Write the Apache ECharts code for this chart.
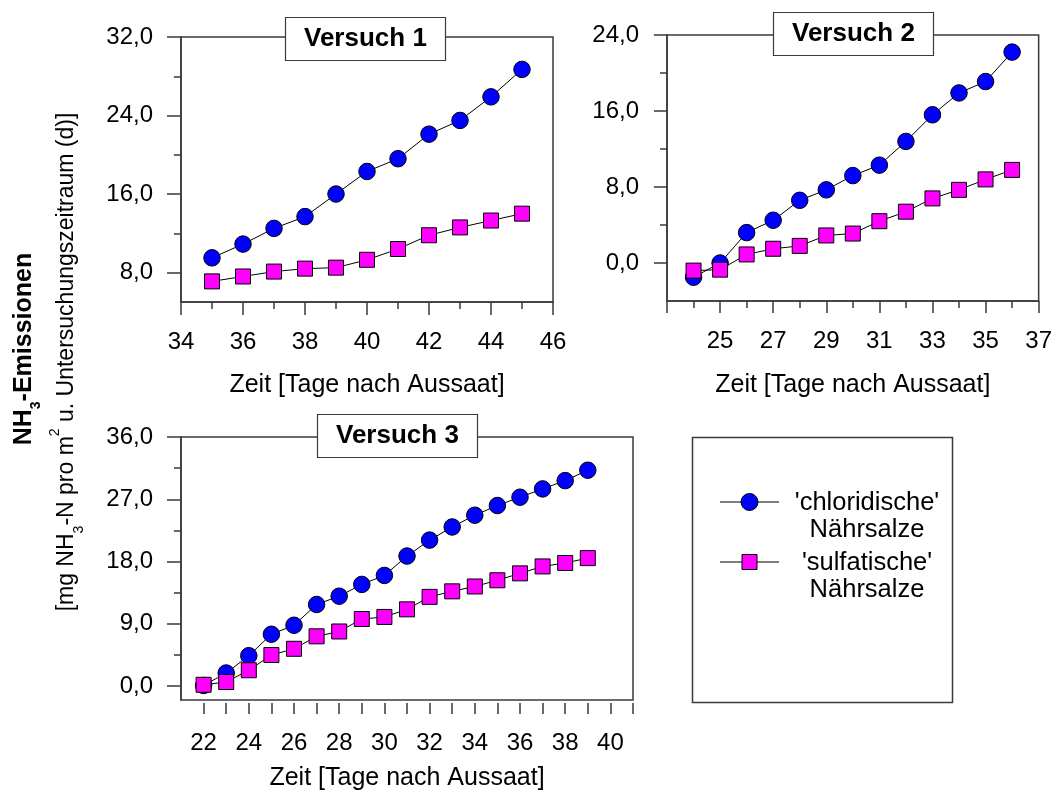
<!DOCTYPE html>
<html>
<head>
<meta charset="utf-8">
<script src="https://cdn.jsdelivr.net/npm/echarts@6/dist/echarts.min.js"></script>
<style>
  html, body { margin: 0; padding: 0; background: #fff; }
  #chart { width: 1055px; height: 792px; }
</style>
</head>
<body>
<div id="chart"></div>
<script>
// ---- Versuch 1 ----
const days1 = [35, 36, 37, 38, 39, 40, 41, 42, 43, 44, 45];
const chlorid1 = [9.5, 10.9, 12.5, 13.7, 16.0, 18.3, 19.6, 22.1, 23.5, 25.9, 28.7];
const sulfat1 = [7.1, 7.6, 8.1, 8.4, 8.5, 9.3, 10.4, 11.8, 12.6, 13.3, 14.0];

// ---- Versuch 2 ----
const days2 = [24, 25, 26, 27, 28, 29, 30, 31, 32, 33, 34, 35, 36];
const chlorid2 = [-1.5, 0.0, 3.2, 4.5, 6.6, 7.7, 9.2, 10.3, 12.8, 15.6, 17.9, 19.1, 22.2];
const sulfat2 = [-0.8, -0.7, 0.9, 1.5, 1.8, 2.9, 3.1, 4.4, 5.4, 6.8, 7.7, 8.8, 9.8];

// ---- Versuch 3 ----
const days3 = [22, 23, 24, 25, 26, 27, 28, 29, 30, 31, 32, 33, 34, 35, 36, 37, 38, 39];
const chlorid3 = [0.1, 1.9, 4.4, 7.5, 8.8, 11.8, 13.0, 14.7, 16.0, 18.8, 21.1, 23.0, 24.7, 26.1, 27.3, 28.5, 29.7, 31.2];
const sulfat3 = [0.2, 0.6, 2.3, 4.5, 5.4, 7.2, 7.9, 9.7, 10.0, 11.1, 12.9, 13.7, 14.4, 15.3, 16.3, 17.3, 17.8, 18.5];

// ---- tick labels and tick positions ----
const xLabels1 = [34, 36, 38, 40, 42, 44, 46];
const xMinor1 = [35, 37, 39, 41, 43, 45];
const yLabels1 = [8, 16, 24, 32];
const yMinor1 = [12, 20, 28];

const xMajor2 = [23, 25, 27, 29, 31, 33, 35, 37];
const xLabels2 = [25, 27, 29, 31, 33, 35, 37];
const xMinor2 = [24, 26, 28, 30, 32, 34, 36];
const yLabels2 = [0, 8, 16, 24];
const yMinor2 = [4, 12, 20];

const xLabels3 = [22, 24, 26, 28, 30, 32, 34, 36, 38, 40];
const xTicks3 = [22, 23, 24, 25, 26, 27, 28, 29, 30, 31, 32, 33, 34, 35, 36, 37, 38, 39, 40, 41];
const yLabels3 = [0, 9, 18, 27, 36];
const yMinor3 = [4.5, 13.5, 22.5, 31.5];

const seriesNames = ["'chloridische' Nährsalze", "'sulfatische' Nährsalze"];
const panelTitles = ['Versuch 1', 'Versuch 2', 'Versuch 3'];
const xTitle = 'Zeit [Tage nach Aussaat]';

const FONT = "'Liberation Sans', Arial, Helvetica, sans-serif";
const FRAME = '#3a3a3a';
const BLUE = '#0000ff';
const MAGENTA = '#ff00ff';

const comma = v => v.toFixed(1).replace('.', ',');
const pairs = (xs, ys) => xs.map((x, i) => [x, ys[i]]);

const tickLine = { color: FRAME, width: 1.5 };
const labelStyle = { color: '#000', fontSize: 24, fontFamily: FONT };

function xMain(grid, min, max, labels, ticks, tickLen, nameGap, showLine, offset) {
  return {
    type: 'value', gridIndex: grid, position: 'bottom', min: min, max: max, offset: offset || 0,
    axisLine: { show: showLine, onZero: false, lineStyle: tickLine },
    axisTick: { show: true, customValues: ticks, length: tickLen, lineStyle: tickLine },
    axisLabel: Object.assign({ customValues: labels, margin: 28 }, labelStyle),
    splitLine: { show: false },
    name: xTitle, nameLocation: 'middle', nameGap: nameGap,
    nameTextStyle: { color: '#000', fontSize: 25, fontFamily: FONT }
  };
}
function xHelper(grid, min, max, ticks, tickLen) {
  return {
    type: 'value', gridIndex: grid, position: 'bottom', min: min, max: max,
    axisLine: { show: false, onZero: false },
    axisTick: { show: true, customValues: ticks, length: tickLen, lineStyle: tickLine },
    axisLabel: { show: false }, splitLine: { show: false }
  };
}
function yMain(grid, min, max, labels, tickLen) {
  return {
    type: 'value', gridIndex: grid, position: 'left', min: min, max: max,
    axisLine: { show: true, onZero: false, lineStyle: tickLine },
    axisTick: { show: true, customValues: labels, length: tickLen, lineStyle: tickLine },
    axisLabel: Object.assign({ customValues: labels, margin: 28, formatter: comma }, labelStyle),
    splitLine: { show: false }
  };
}
function yHelper(grid, min, max, ticks, tickLen) {
  return {
    type: 'value', gridIndex: grid, position: 'left', min: min, max: max,
    axisLine: { show: false, onZero: false },
    axisTick: { show: true, customValues: ticks, length: tickLen, lineStyle: tickLine },
    axisLabel: { show: false }, splitLine: { show: false }
  };
}
function seriesOf(name, kind, xi, yi, xs, ys) {
  const circle = kind === 'circle';
  return {
    name: name, type: 'line', xAxisIndex: xi, yAxisIndex: yi,
    data: pairs(xs, ys),
    symbol: circle ? 'circle' : 'rect',
    symbolSize: circle ? 16.5 : 15,
    itemStyle: { color: circle ? BLUE : MAGENTA, borderColor: '#000', borderWidth: 1 },
    lineStyle: { color: '#000', width: 1 },
    emphasis: { disabled: true },
    animation: false
  };
}
function titleBox(text, left, top) {
  return {
    text: text, left: left, top: top,
    padding: [8, 19], borderColor: FRAME, borderWidth: 1.2, backgroundColor: '#fff',
    textStyle: { fontSize: 26, fontWeight: 'bold', fontFamily: FONT, color: '#000', lineHeight: 28 }
  };
}

const gridStyle = { show: true, borderColor: FRAME, borderWidth: 1.5, backgroundColor: 'transparent' };

const option = {
  backgroundColor: '#fff',
  animation: false,
  grid: [
    Object.assign({ left: 181, top: 37, width: 372, height: 265 }, gridStyle),
    Object.assign({ left: 667, top: 35, width: 372, height: 266 }, gridStyle),
    Object.assign({ left: 181, top: 437, width: 452, height: 265 }, gridStyle)
  ],
  title: [
    titleBox(panelTitles[0], 285, 17),
    titleBox(panelTitles[1], 773, 12),
    titleBox(panelTitles[2], 317, 414)
  ],
  xAxis: [
    xMain(0, 34, 46, xLabels1, xMinor1, 7, 71, true, 0),
    xHelper(0, 34, 46, xLabels1, 13),
    xMain(1, 23, 37, xLabels2, xMinor2, 7, 72, true, 0),
    xHelper(1, 23, 37, xMajor2, 12),
    xMain(2, 21, 41, xLabels3, xTicks3, 11, 63, false, 3)
  ],
  yAxis: [
    yMain(0, 5, 32, yLabels1, 14),
    yHelper(0, 5, 32, yMinor1, 7),
    yMain(1, -4, 24, yLabels2, 13),
    yHelper(1, -4, 24, yMinor2, 7),
    yMain(2, -2, 36, yLabels3, 14),
    yHelper(2, -2, 36, yMinor3, 7)
  ],
  series: [
    seriesOf(seriesNames[0], 'circle', 0, 0, days1, chlorid1),
    seriesOf(seriesNames[1], 'rect', 0, 0, days1, sulfat1),
    seriesOf(seriesNames[0], 'circle', 2, 2, days2, chlorid2),
    seriesOf(seriesNames[1], 'rect', 2, 2, days2, sulfat2),
    seriesOf(seriesNames[0], 'circle', 4, 4, days3, chlorid3),
    seriesOf(seriesNames[1], 'rect', 4, 4, days3, sulfat3)
  ],
  graphic: [
    // shared y-axis title, two rotated lines
    {
      type: 'text', x: 24, y: 349, rotation: Math.PI / 2,
      style: {
        text: '{b|NH}{bs|3}{b|-Emissionen}',
        align: 'center', verticalAlign: 'middle', fill: '#000',
        rich: {
          b: { fontSize: 25, fontWeight: 'bold', fontFamily: FONT, lineHeight: 38 },
          bs: { fontSize: 14, fontWeight: 'bold', fontFamily: FONT, lineHeight: 14, verticalAlign: 'bottom' }
        }
      }
    },
    {
      type: 'text', x: 67, y: 362, rotation: Math.PI / 2,
      style: {
        text: '{r|[mg NH}{s|3}{r|-N pro m}{p|2}{r| u. Untersuchungszeitraum (d)]}',
        align: 'center', verticalAlign: 'middle', fill: '#000',
        rich: {
          r: { fontSize: 23, fontFamily: FONT, lineHeight: 38 },
          s: { fontSize: 14, fontFamily: FONT, lineHeight: 14, verticalAlign: 'bottom' },
          p: { fontSize: 14, fontFamily: FONT, lineHeight: 14, verticalAlign: 'top' }
        }
      }
    },
    // legend box
    {
      type: 'group',
      children: [
        { type: 'rect', shape: { x: 692.5, y: 437.5, width: 260, height: 265 },
          style: { fill: '#fff', stroke: FRAME, lineWidth: 1.5 } },
        { type: 'line', shape: { x1: 720, y1: 502, x2: 779, y2: 502 }, style: { stroke: '#000', lineWidth: 1 } },
        { type: 'circle', shape: { cx: 749.5, cy: 502, r: 8.5 }, style: { fill: BLUE, stroke: '#000', lineWidth: 1 } },
        { type: 'line', shape: { x1: 720, y1: 562, x2: 779, y2: 562 }, style: { stroke: '#000', lineWidth: 1 } },
        { type: 'rect', shape: { x: 742, y: 554.5, width: 15, height: 15 }, style: { fill: MAGENTA, stroke: '#000', lineWidth: 1 } },
        { type: 'text', x: 867, y: 489, style: { text: "'chloridische'\nNährsalze", align: 'center', verticalAlign: 'top',
          fontSize: 25.5, lineHeight: 27.5, fontFamily: FONT, fill: '#000' } },
        { type: 'text', x: 867, y: 549, style: { text: "'sulfatische'\nNährsalze", align: 'center', verticalAlign: 'top',
          fontSize: 25.5, lineHeight: 27.5, fontFamily: FONT, fill: '#000' } }
      ]
    }
  ]
};

const chart = echarts.init(document.getElementById('chart'), null, { renderer: 'canvas' });
chart.setOption(option);
</script>
</body>
</html>
